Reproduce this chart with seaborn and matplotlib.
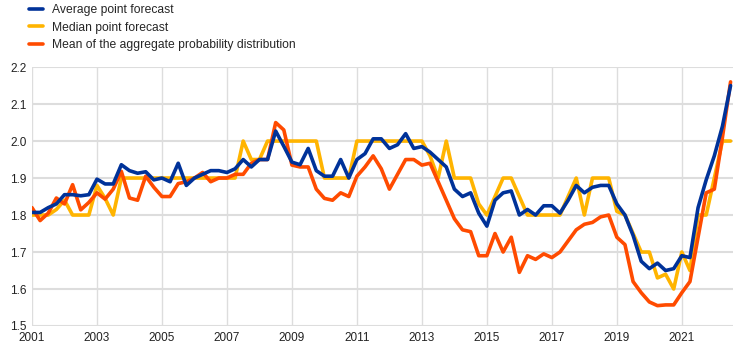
import matplotlib
matplotlib.use("Agg")
import matplotlib.pyplot as plt
import numpy as np
import pandas as pd
import seaborn as sns

# quarterly data, 2001 Q1 - 2022 Q3
quarters = 2001 + np.arange(87) * 0.25

average_fc = [
    1.807, 1.807, 1.82, 1.83, 1.855, 1.855, 1.852, 1.855, 1.897, 1.884,
    1.884, 1.936, 1.92, 1.913, 1.917, 1.895, 1.90, 1.89, 1.94, 1.88,
    1.90, 1.91, 1.92, 1.92, 1.915, 1.925, 1.95, 1.93, 1.95, 1.95,
    2.027, 1.986, 1.943, 1.936, 1.98, 1.92, 1.905, 1.905, 1.95, 1.90,
    1.95, 1.966, 2.006, 2.006, 1.98, 1.99, 2.02, 1.98, 1.985, 1.97,
    1.95, 1.93, 1.87, 1.85, 1.86, 1.805, 1.77, 1.84, 1.86, 1.865,
    1.80, 1.815, 1.80, 1.825, 1.825, 1.805, 1.84, 1.88, 1.86, 1.875,
    1.88, 1.88, 1.83, 1.80, 1.745, 1.675, 1.655, 1.67, 1.65, 1.655,
    1.69, 1.685, 1.82, 1.895, 1.96, 2.04, 2.15,
]

median_fc = [
    1.8, 1.8, 1.8, 1.815, 1.84, 1.8, 1.8, 1.8, 1.88, 1.845,
    1.8, 1.9, 1.9, 1.9, 1.9, 1.9, 1.9, 1.9, 1.9, 1.9,
    1.9, 1.9, 1.9, 1.9, 1.9, 1.9, 2.0, 1.95, 1.95, 2.0,
    2.0, 2.0, 2.0, 2.0, 2.0, 2.0, 1.9, 1.9, 1.9, 1.9,
    2.0, 2.0, 2.0, 2.0, 2.0, 2.0, 2.0, 2.0, 2.0, 1.96,
    1.9, 2.0, 1.9, 1.9, 1.9, 1.83, 1.8, 1.85, 1.9, 1.9,
    1.85, 1.8, 1.8, 1.8, 1.8, 1.8, 1.85, 1.9, 1.8, 1.9,
    1.9, 1.9, 1.81, 1.8, 1.75, 1.7, 1.7, 1.63, 1.64, 1.60,
    1.70, 1.65, 1.8, 1.8, 1.9, 2.0, 2.0,
]

mean_prob = [
    1.82, 1.785, 1.805, 1.846, 1.83, 1.882, 1.814, 1.834, 1.86, 1.843,
    1.87, 1.918, 1.846, 1.84, 1.905, 1.875, 1.85, 1.85, 1.885, 1.89,
    1.90, 1.915, 1.89, 1.90, 1.90, 1.91, 1.91, 1.94, 1.95, 1.95,
    2.05, 2.03, 1.935, 1.93, 1.93, 1.87, 1.845, 1.84, 1.86, 1.85,
    1.905, 1.93, 1.96, 1.925, 1.87, 1.91, 1.95, 1.95, 1.935, 1.94,
    1.89, 1.84, 1.79, 1.76, 1.755, 1.69, 1.69, 1.75, 1.70, 1.74,
    1.645, 1.69, 1.68, 1.695, 1.685, 1.70, 1.73, 1.76, 1.775, 1.78,
    1.795, 1.80, 1.74, 1.72, 1.62, 1.59, 1.565, 1.555, 1.557, 1.557,
    1.59, 1.62, 1.74, 1.86, 1.87, 2.01, 2.16,
]

labels = ['Average point forecast', 'Median point forecast',
          'Mean of the aggregate probability distribution']
colors = ['#003299', '#FFB400', '#FF4B00']

df = pd.DataFrame({'quarter': quarters, labels[0]: average_fc,
                   labels[1]: median_fc, labels[2]: mean_prob})

sns.set_style('white')
plt.rcParams['font.family'] = ['Liberation Sans', 'DejaVu Sans']

fig = plt.figure(figsize=(7.44, 3.53), dpi=100)
ax = fig.add_axes([0.043, 0.0765, 0.942, 0.7335])

# draw yellow first, then orange, blue on top
for idx in [1, 2, 0]:
    sns.lineplot(data=df, x='quarter', y=labels[idx], ax=ax, color=colors[idx],
                 linewidth=2.6, label=labels[idx], legend=False)

ax.set_xlim(2001, 2022.57)
ax.set_ylim(1.5, 2.2)
ax.set_xticks(np.arange(2001, 2022, 2))
ax.set_yticks(np.arange(1.5, 2.21, 0.1))
ax.set_yticklabels([f'{v:.1f}' for v in np.arange(1.5, 2.21, 0.1)])
ax.set_xlabel('')
ax.set_ylabel('')
ax.tick_params(axis='both', length=0, labelsize=8.5, colors='#222222', pad=4)
ax.grid(axis='y', color='#dddddd', linewidth=1.5)
ax.grid(axis='x', color='#dddddd', linewidth=1.0)
ax.set_axisbelow(True)
for s in ax.spines.values():
    s.set_visible(False)

handles, _ = ax.get_legend_handles_labels()
order = {h.get_label(): h for h in handles}
fig.legend([order[l] for l in labels], labels, loc='upper left',
           bbox_to_anchor=(0.025, 1.02), frameon=False, fontsize=8.7,
           handlelength=1.1, handletextpad=0.75, labelspacing=0.48)

fig.savefig('out.png', dpi=100)
